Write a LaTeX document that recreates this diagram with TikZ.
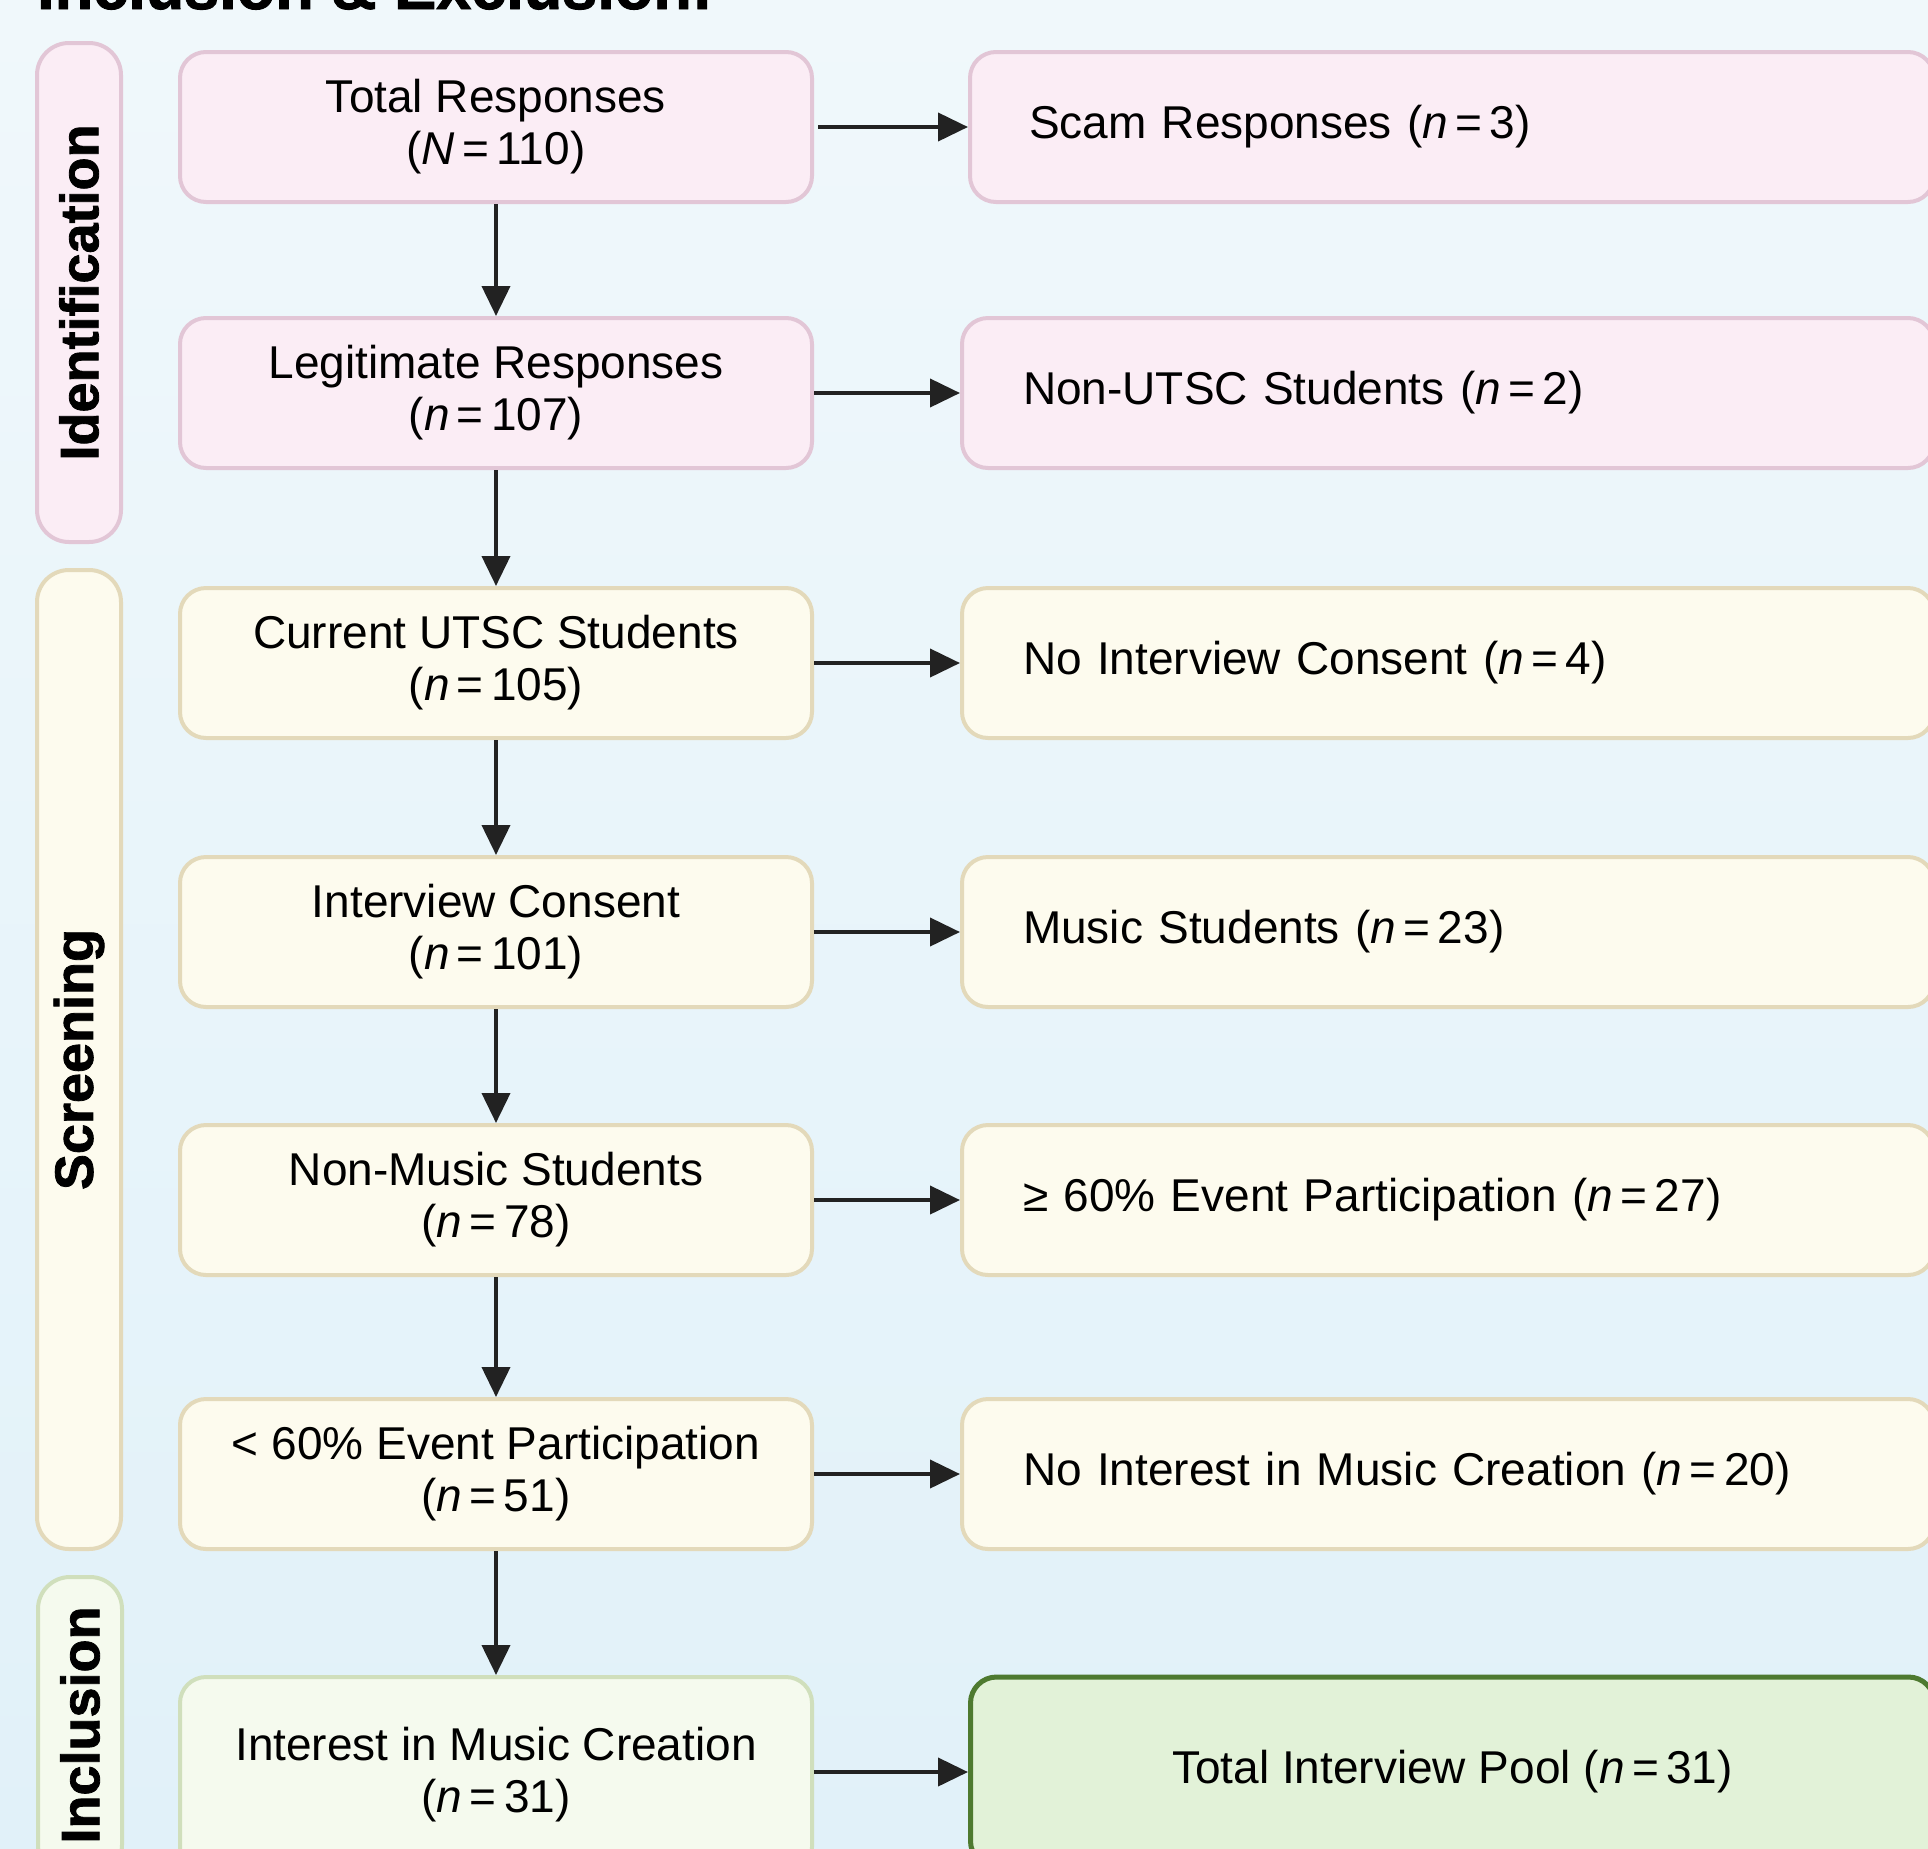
\documentclass[tikz,border=0pt]{standalone}
\usepackage{fontspec}
\setmainfont{Liberation Sans}
\newfontfamily\heavyfont{Liberation Sans}[BoldFeatures={FakeBold=1.5}]
\usetikzlibrary{arrows.meta}
\newcommand{\eqs}{\hspace{0.16em}=\hspace{0.16em}}
\definecolor{bgtop}{HTML}{F0F8FB}
\definecolor{bgbot}{HTML}{E1F1F9}
\definecolor{pinkf}{HTML}{FBEDF5}
\definecolor{pinkb}{HTML}{E2C6D6}
\definecolor{yelf}{HTML}{FDFBEE}
\definecolor{yelb}{HTML}{E3D9BA}
\definecolor{grnf}{HTML}{F5FAEE}
\definecolor{grnb}{HTML}{D0DFBC}
\definecolor{poolf}{HTML}{E2F2D8}
\definecolor{poolb}{HTML}{4E7A30}
\definecolor{arr}{HTML}{222222}
\tikzset{
  boxtext/.style={font=\fontsize{46}{52}\selectfont, text=black},
  basebox/.style={boxtext, line width=4pt, rounded corners=26pt, inner sep=0pt},
  leftbox/.style={basebox, minimum width=632pt, minimum height=150pt, align=center},
  rightbox/.style={basebox, anchor=west, minimum height=150pt, text width=850pt, inner xsep=61pt, align=left},
  pinkstyle/.style={draw=pinkb, fill=pinkf},
  yelstyle/.style={draw=yelb, fill=yelf},
  grnstyle/.style={draw=grnb, fill=grnf},
  pill/.style={line width=4pt, rounded corners=32pt, minimum width=84pt, inner sep=0pt},
  sidelabel/.style={rotate=90, font=\heavyfont\bfseries\fontsize{54}{60}\selectfont, text=black},
  flow/.style={draw=arr, line width=4pt, -{Triangle[length=30pt,width=28pt]}}
}
\begin{document}
\begin{tikzpicture}[x=1pt,y=-1pt]
\useasboundingbox (0,0) rectangle (1928,1848);
\shade[top color=bgtop, bottom color=bgbot] (0,0) rectangle (1928,1848);

% title (cut off at top, as in the reference)
\node[anchor=base west, inner sep=0pt, font=\heavyfont\bfseries\fontsize{63}{70}\selectfont] (title) at (37,9) {Inclusion \& Exclusion:};

% side pills
\node[pill, pinkstyle, minimum height=499pt] (pid) at (79,292.5) {};
\node[pill, yelstyle, minimum height=979pt] (pscr) at (79,1059.5) {};
\node[pill, grnstyle, minimum height=300pt] (pinc) at (80,1727) {};
\node[sidelabel] (lid) at (pid.center) {Identification};
\node[sidelabel] (lscr) at (pscr.center) {Screening};
\node[sidelabel] (linc) at (80,1725) {Inclusion};

% left column
\node[leftbox, pinkstyle] (l1) at (496,127) {Total Responses\\(\textit{N}\eqs 110)};
\node[leftbox, pinkstyle] (l2) at (496,393) {Legitimate Responses\\(\textit{n}\eqs 107)};
\node[leftbox, yelstyle] (l3) at (496,663) {Current UTSC Students\\(\textit{n}\eqs 105)};
\node[leftbox, yelstyle] (l4) at (496,932) {Interview Consent\\(\textit{n}\eqs 101)};
\node[leftbox, yelstyle] (l5) at (496,1200) {Non-Music Students\\(\textit{n}\eqs 78)};
\node[leftbox, yelstyle] (l6) at (496,1474) {< 60\% Event Participation\\(\textit{n}\eqs 51)};
\node[leftbox, grnstyle, minimum height=196pt] (l7) at (496,1775) {Interest in Music Creation\\(\textit{n}\eqs 31)};

% right column
\node[rightbox, pinkstyle, inner xsep=59pt, text width=846pt] (r1) at (968,127) {Scam Responses (\textit{n}\eqs 3)};
\node[rightbox, pinkstyle] (r2) at (960,393) {Non-UTSC Students (\textit{n}\eqs 2)};
\node[rightbox, yelstyle] (r3) at (960,663) {No Interview Consent (\textit{n}\eqs 4)};
\node[rightbox, yelstyle] (r4) at (960,932) {Music Students (\textit{n}\eqs 23)};
\node[rightbox, yelstyle] (r5) at (960,1200) {≥ 60\% Event Participation (\textit{n}\eqs 27)};
\node[rightbox, yelstyle] (r6) at (960,1474) {No Interest in Music Creation (\textit{n}\eqs 20)};
\node[basebox, anchor=west, draw=poolb, fill=poolf, line width=5pt, minimum width=964pt, minimum height=190pt, align=center] (r7) at (968,1772) {Total Interview Pool (\textit{n}\eqs 31)};

% vertical connectors
\draw[flow] (l1) -- (l2);
\draw[flow] (l2) -- (l3);
\draw[flow] (l3) -- (l4);
\draw[flow] (l4) -- (l5);
\draw[flow] (l5) -- (l6);
\draw[flow] (l6) -- (l7);

% horizontal connectors
\draw[flow, shorten <=4pt] (l1) -- (r1);
\draw[flow] (l2) -- (r2);
\draw[flow] (l3) -- (r3);
\draw[flow] (l4) -- (r4);
\draw[flow] (l5) -- (r5);
\draw[flow] (l6) -- (r6);
\draw[flow] (l7.east |- r7.west) -- (r7.west);
\end{tikzpicture}
\end{document}
